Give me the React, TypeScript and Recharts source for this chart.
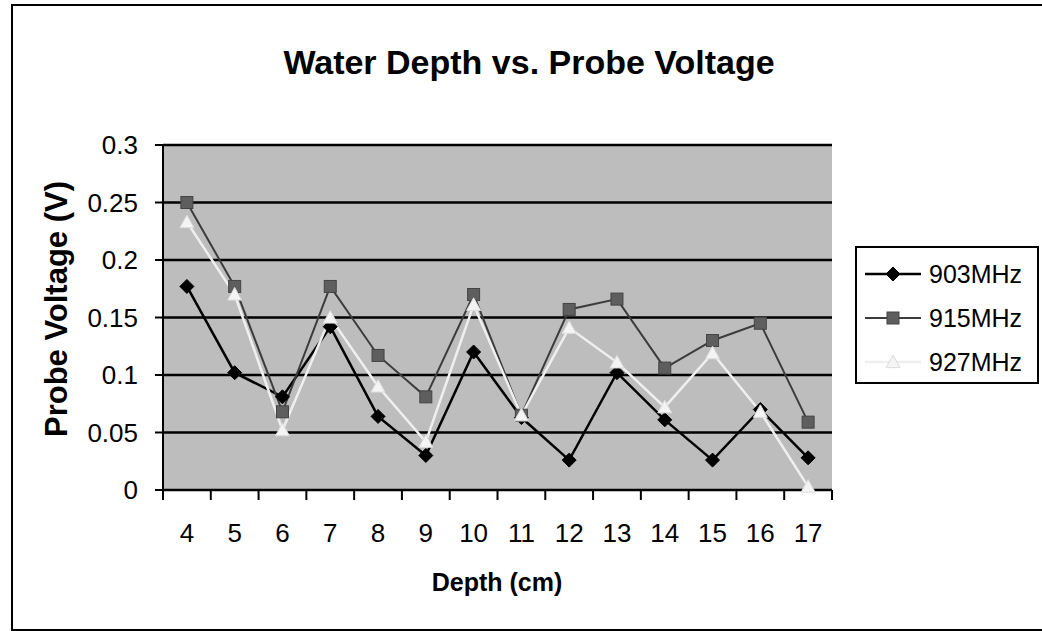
import React from 'react';
import { LineChart, Line, XAxis, YAxis, CartesianGrid } from 'recharts';

const depths = [4, 5, 6, 7, 8, 9, 10, 11, 12, 13, 14, 15, 16, 17];
const mhz903 = [0.177, 0.102, 0.081, 0.142, 0.064, 0.03, 0.12, 0.063, 0.026, 0.102, 0.061, 0.026, 0.07, 0.028];
const mhz915 = [0.25, 0.177, 0.068, 0.177, 0.117, 0.081, 0.17, 0.065, 0.157, 0.166, 0.106, 0.13, 0.145, 0.059];
const mhz927 = [0.233, 0.17, 0.052, 0.15, 0.09, 0.042, 0.161, 0.065, 0.141, 0.111, 0.072, 0.119, 0.068, 0.003];
const yTicks = [0, 0.05, 0.1, 0.15, 0.2, 0.25, 0.3];

const seriesNames = ['903MHz', '915MHz', '927MHz'];

const chartData = depths.map((d, i) => ({
  depth: d,
  '903MHz': mhz903[i],
  '915MHz': mhz915[i],
  '927MHz': mhz927[i],
}));

// excel puts the tick marks between categories, labels in the middle
const xTicks: number[] = [];
depths.forEach((d) => {
  xTicks.push(d - 0.5);
  xTicks.push(d);
});
xTicks.push(depths[depths.length - 1] + 0.5);

const FONT = 'Arial, "Liberation Sans", sans-serif';

const Diamond = ({ cx, cy, size = 7, fill }: any) => (
  <path d={`M${cx},${cy - size}L${cx + size},${cy}L${cx},${cy + size}L${cx - size},${cy}Z`} fill={fill} stroke={fill} />
);
const Square = ({ cx, cy, size = 6, fill, stroke }: any) => (
  <rect x={cx - size} y={cy - size} width={size * 2} height={size * 2} fill={fill} stroke={stroke} />
);
const Triangle = ({ cx, cy, size = 7, fill, stroke }: any) => (
  <path d={`M${cx},${cy - size}L${cx + size},${cy + size * 0.8}L${cx - size},${cy + size * 0.8}Z`} fill={fill} stroke={stroke} />
);

const styles: Record<string, { line: string; width: number; marker: (p: any) => React.ReactElement }> = {
  '903MHz': { line: '#000000', width: 2.5, marker: (p) => <Diamond {...p} fill="#000" /> },
  '915MHz': { line: '#3c3c3c', width: 2, marker: (p) => <Square {...p} fill="#5e5e5e" stroke="#444" /> },
  '927MHz': { line: '#efefef', width: 2.5, marker: (p) => <Triangle {...p} fill="#f4f4f4" stroke="#dcdcdc" /> },
};

const XTick = (props: any) => {
  const { x, y, payload } = props;
  const v = payload.value;
  if (Number.isInteger(v)) {
    return (
      <text x={x} y={y + 43} textAnchor="middle" dominantBaseline="central" fontSize={26} fontFamily={FONT} fill="#000">
        {v}
      </text>
    );
  }
  return <line x1={x} y1={y} x2={x} y2={y + 10} stroke="#000" strokeWidth={2} />;
};

const LegendBox = () => (
  <div
    style={{
      position: 'absolute',
      left: 855,
      top: 246,
      width: 180,
      height: 134,
      border: '2px solid #000',
      background: '#fff',
      fontFamily: FONT,
      fontSize: 25,
    }}
  >
    {seriesNames.map((name, i) => (
      <div key={name} style={{ position: 'absolute', left: 6, top: 12 + i * 44, height: 28, display: 'flex', alignItems: 'center' }}>
        <svg width={60} height={28}>
          <line x1={2} y1={14} x2={58} y2={14} stroke={styles[name].line} strokeWidth={styles[name].width} />
          {styles[name].marker({ cx: 30, cy: 14 })}
        </svg>
        <span style={{ marginLeft: 6, color: '#000' }}>{name}</span>
      </div>
    ))}
  </div>
);

export default function App() {
  return (
    <div style={{ position: 'absolute', left: 0, top: 0, width: 1042, height: 631, background: '#fff', overflow: 'hidden' }}>
      <div
        style={{
          position: 'absolute',
          left: 11,
          top: 4,
          width: 1029,
          height: 623,
          border: '2px solid #000',
        }}
      />
      <div
        style={{
          position: 'absolute',
          left: 529,
          top: 45,
          transform: 'translateX(-50%)',
          whiteSpace: 'nowrap',
          fontFamily: FONT,
          fontWeight: 'bold',
          fontSize: 34,
          lineHeight: '34px',
          color: '#000',
        }}
      >
        Water Depth vs. Probe Voltage
      </div>
      <div
        style={{
          position: 'absolute',
          left: 57,
          top: 309,
          transform: 'translate(-50%, -50%) rotate(-90deg)',
          whiteSpace: 'nowrap',
          fontFamily: FONT,
          fontWeight: 'bold',
          fontSize: 31,
          color: '#000',
        }}
      >
        Probe Voltage (V)
      </div>
      <div
        style={{
          position: 'absolute',
          left: 497,
          top: 582,
          transform: 'translate(-50%, -50%)',
          whiteSpace: 'nowrap',
          fontFamily: FONT,
          fontWeight: 'bold',
          fontSize: 25,
          color: '#000',
        }}
      >
        Depth (cm)
      </div>
      <div style={{ position: 'absolute', left: 0, top: 0 }}>
        <LineChart width={1042} height={631} data={chartData} margin={{ top: 145, right: 210, left: 103, bottom: 111 }}>
          <CartesianGrid vertical={false} stroke="#000" strokeWidth={2.5} fill="#bdbdbd" />
          <XAxis
            dataKey="depth"
            type="number"
            domain={[depths[0] - 0.5, depths[depths.length - 1] + 0.5]}
            ticks={xTicks}
            interval={0}
            tick={<XTick />}
            tickLine={false}
            tickSize={0}
            tickMargin={0}
            height={30}
            axisLine={{ stroke: '#000', strokeWidth: 2 }}
          />
          <YAxis
            type="number"
            domain={[0, 0.3]}
            ticks={yTicks}
            interval={0}
            width={60}
            tickSize={8}
            tickMargin={17}
            tickLine={{ stroke: '#000', strokeWidth: 2 }}
            axisLine={{ stroke: '#000', strokeWidth: 2 }}
            tick={{ fill: '#000', fontSize: 26, fontFamily: FONT }}
          />
          {seriesNames.map((name) => (
            <Line
              key={name}
              dataKey={name}
              type="linear"
              stroke={styles[name].line}
              strokeWidth={styles[name].width}
              isAnimationActive={false}
              dot={(p: any) => <g key={`${name}-${p.index}`}>{styles[name].marker({ cx: p.cx, cy: p.cy })}</g>}
              activeDot={false}
            />
          ))}
        </LineChart>
      </div>
      <LegendBox />
    </div>
  );
}
